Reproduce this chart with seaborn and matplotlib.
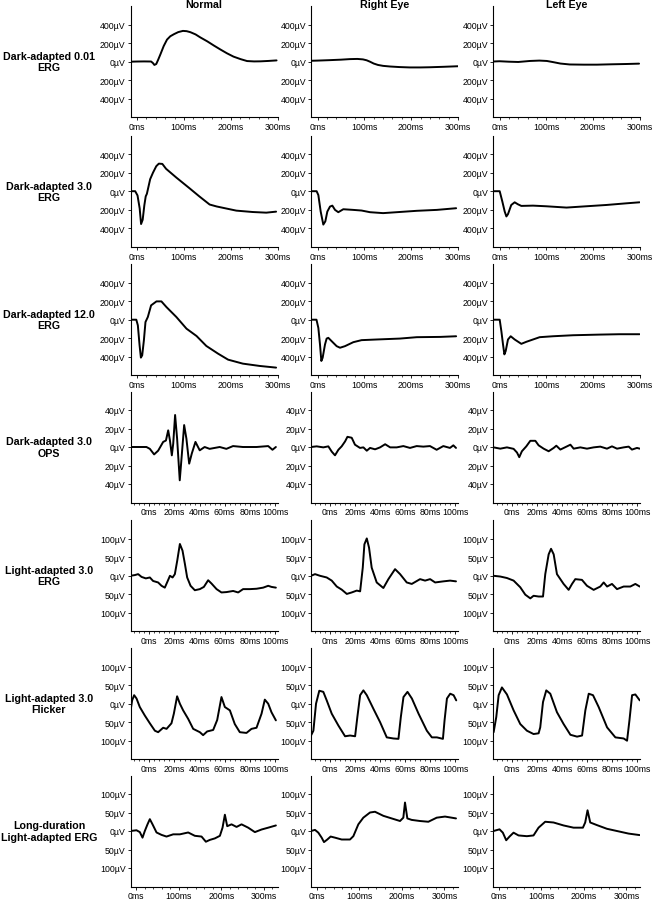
import numpy as np
import pandas as pd
import matplotlib
matplotlib.use("Agg")
import matplotlib.pyplot as plt
import seaborn as sns
from matplotlib.ticker import AutoMinorLocator

# Dark-adapted 0.01 ERG
da001_normal_t = [-14, 0, 15, 30, 34, 37, 41, 45, 50, 57, 64, 71, 79, 88, 98, 106, 114, 125, 135, 150, 164, 178, 192, 206, 221, 235, 250, 264, 280, 298]
da001_normal_v = [0, 2, 3, 2, -15, -35, -25, 20, 81, 170, 239, 275, 298, 320, 333, 330, 319, 295, 263, 220, 175, 132, 91, 55, 28, 7, 3, 4, 8, 14]
da001_right_t = [-14, 0, 27, 50, 69, 85, 97, 105, 112, 120, 129, 140, 155, 175, 197, 220, 240, 270, 300]
da001_right_v = [10, 12, 17, 22, 28, 30, 25, 15, 0, -20, -35, -45, -52, -58, -62, -62, -60, -55, -49]
da001_left_t = [-14, 0, 20, 40, 65, 85, 101, 115, 130, 150, 180, 208, 240, 270, 298]
da001_left_v = [2, 5, 0, -3, 8, 12, 8, -5, -20, -30, -32, -32, -28, -25, -21]

# Dark-adapted 3.0 ERG
da30_normal_t = [-14, -4, 1, 5.6, 8.6, 12, 15.6, 18.5, 21, 28, 34, 41, 46.5, 54, 62, 84, 112, 133, 155, 170, 183, 212, 247, 276, 297]
da30_normal_v = [0, 0, -46, -186, -355, -309, -151, -56, -28, 130, 200, 270, 298, 295, 242, 147, 32, -56, -144, -165, -179, -210, -225, -232, -221]
da30_right_t = [-14, -2, 1.7, 6.7, 12.3, 16.6, 20.9, 26.6, 31.6, 37.3, 44.3, 55, 76, 94, 112, 140, 169, 212, 255, 296]
da30_right_v = [0, 0, -42, -220, -361, -326, -220, -166, -156, -202, -227, -195, -202, -209, -227, -237, -227, -212, -202, -184]
da30_left_t = [-14, 0.3, 6, 11, 14.6, 18, 25, 32.3, 39.4, 46.5, 71.4, 100, 143, 185, 228, 271, 299]
da30_left_v = [0, 0, -113, -220, -273, -248, -149, -120, -142, -159, -156, -163, -177, -163, -149, -131, -120]

# Dark-adapted 12.0 ERG
da12_normal_t = [-14, -1.6, 1.7, 5.4, 8.2, 11, 14.6, 18, 23, 30, 41.5, 52, 62.7, 84, 105.6, 127, 148, 173, 194.5, 226, 262, 297]
da12_normal_v = [0, 0, -61, -277, -410, -385, -223, -25, 29, 155, 198, 198, 137, 29, -97, -176, -284, -367, -432, -475, -500, -518]
da12_right_t = [-14, -2.3, 1.7, 5.2, 8.1, 10.9, 15.9, 19.4, 23, 30.1, 40.8, 48, 58.6, 76.4, 94, 126, 176, 212, 262, 296]
da12_right_v = [0, 0, -89, -268, -446, -411, -268, -204, -196, -232, -286, -303, -286, -243, -221, -214, -204, -189, -186, -179]
da12_left_t = [-14, 0.3, 3.9, 7.4, 10.3, 13.1, 18, 23.8, 32.3, 46.5, 57.2, 71.4, 85.7, 114, 157, 214, 256, 299]
da12_left_v = [0, 0, -125, -268, -375, -339, -214, -179, -214, -261, -239, -214, -189, -179, -168, -161, -157, -157]

# Dark-adapted 3.0 OPS
ops_normal_t = [-15, -7.6, -2.3, 0.4, 3.8, 7, 11, 13.2, 15, 16.4, 17.9, 19, 20.5, 22.1, 24.2, 25.8, 27.7, 29.5, 31.7, 33.8, 36.7, 40.1, 44, 48, 56, 61.3, 66.6, 74.5, 85.3, 94.6, 98, 100.7]
ops_normal_v = [0, 0, 0, -2, -8, -4, 5.5, 7, 18, 7, -9, 3.6, 34.6, 9, -36, -9, 23.7, 9, -18, -7, 5.5, -3.6, 0, -2, 0, -2, 1, 0, 0, 1, -3, 0]
ops_right_t = [-15, -10.5, -5.2, -1.2, 1.5, 4.1, 6.8, 9.4, 12.1, 14, 17.4, 20, 24, 26.7, 29.4, 32, 36, 40, 44, 48, 53.2, 58.5, 63.8, 69.1, 74.4, 79.7, 85, 90.3, 95.6, 98.3, 100.4]
ops_right_v = [0, 0.7, -0.4, 0.7, -5, -9, -3, 0.7, 6, 11, 10, 2.5, -1, -0.4, -4, -1, -2.5, -0.4, 3, -0.4, -0.4, 1, -1, 1, 0.4, 1, -3, 1, -1, 1.8, -1]
ops_left_t = [-14.5, -9.2, -3.9, 1.4, 4.1, 5.9, 8, 11.5, 14.7, 18.7, 21.3, 25.3, 29.3, 33.3, 35.4, 38.6, 43.9, 46.6, 49.2, 54.5, 59.8, 65.1, 70.4, 75.7, 79.7, 83.7, 89, 93, 95.6, 99.6, 101.8]
ops_left_v = [-0.4, -1.8, -0.4, -2, -6, -11, -4.6, 0.7, 6.7, 6.7, 1.8, -1.8, -4.6, -1, 1.4, -2.8, 0.7, 2.5, -1.8, -0.4, -1.8, -0.4, 0.4, -1.8, 0.7, -1.8, -0.4, 0.4, -2.8, -1, -1.8]

# Light-adapted 3.0 ERG
la_normal_t = [-15, -11.5, -8.9, -6.2, -2.8, 0.4, 3, 7, 9.7, 12.3, 14.5, 16.4, 18.5, 20.3, 22.2, 24.3, 26.4, 28.3, 30.1, 32.8, 36.2, 40.2, 43.4, 46.8, 49.5, 53.5, 57.4, 61.4, 66.7, 70.7, 74.6, 80, 85.3, 90.6, 94.6, 97.2, 100.7]
la_normal_v = [0, 2, 4.5, -3, -7, -4.5, -14, -18, -27, -32, -15, 0, -4.5, 4.5, 41, 86, 68, 32, -4.5, -27, -39, -36, -30, -12, -21, -36, -45, -44, -41, -45, -36, -36, -35, -32, -27, -30, -32]
la_right_t = [-15, -11.8, -7.8, -2.5, 1.5, 5.5, 9.5, 13.5, 17.4, 21.4, 24.1, 26.2, 27.5, 29.4, 31.2, 33.3, 37.3, 42.6, 46.6, 51.9, 55.9, 61.2, 65.2, 71.8, 75.8, 79.8, 83.8, 90.4, 95.7, 100.4]
la_right_v = [0, 4.5, 0, -4.5, -13, -29, -37.5, -49, -45, -40, -42, 22, 85, 101, 76, 22, -18, -33, -9, 18, 4.5, -18, -22, -9, -13, -9, -18, -15, -13, -15]
la_left_t = [-14.5, -9.2, -3.9, 1.4, 6.7, 10.7, 14.7, 17.3, 21.3, 24.8, 26.6, 29.3, 31.2, 33.3, 35.9, 41.2, 45.2, 47.9, 50.5, 55.8, 59.8, 65.1, 70.4, 73.1, 75.8, 79.7, 83.7, 89, 94.3, 98.3, 101.8]
la_left_v = [0, -2, -6, -13, -31, -51, -61, -54, -56, -56, 4.5, 58, 73, 58, 4.5, -22, -38, -22, -9, -11, -27, -38, -29, -18, -29, -22, -36, -29, -29, -22, -29]

# Light-adapted 3.0 Flicker
fl_normal_t = [-15, -13.7, -12.1, -10.2, -7.6, -3.6, 0.4, 4.4, 7, 11, 13.7, 17.6, 19.5, 22.1, 24.3, 26.9, 30.9, 34.9, 40.2, 42.8, 46, 50.8, 54, 57.4, 60.1, 64.1, 68, 72, 77.3, 81.3, 85.3, 89.3, 91.9, 94.6, 97.2, 100.7]
fl_normal_v = [-20, 9, 23, 14, -9, -32, -53, -73, -77, -65, -68, -53, -27, 20, 0, -18, -41, -68, -77, -85, -75, -71, -44, 18, -9, -18, -55, -77, -79, -68, -65, -27, 11, 0, -23, -45]
fl_right_t = [-15, -13.1, -11, -8.4, -5.2, -2.5, 1.5, 6.8, 12.1, 16.1, 20.1, 21.9, 24.1, 26.7, 29.4, 34.7, 40, 45.3, 50.6, 54.6, 56.5, 58.6, 61.8, 65.3, 70.6, 77.2, 81.2, 85.2, 90, 91.3, 93.2, 95.8, 98.5, 100.6]
fl_right_v = [-86, -73, 0, 35, 32, 9, -27, -59, -88, -86, -88, -36, 23, 36, 23, -14, -50, -91, -94, -95, -36, 18, 32, 14, -27, -73, -91, -91, -95, -45, 14, 27, 23, 9]
fl_left_t = [-14.5, -12.4, -10.5, -7.9, -3.9, 1.4, 6.7, 12, 17.3, 21.3, 22.6, 24.8, 27.4, 30.6, 35.9, 41.2, 46.6, 51.9, 55.9, 58.5, 61.2, 64.6, 69.1, 75.8, 82.4, 89, 91.7, 93.6, 95.7, 98.3, 101.8]
fl_left_v = [-77, -36, 23, 44, 25, -18, -55, -73, -82, -80, -64, 4.5, 36, 27, -23, -55, -84, -89, -86, -18, 27, 23, -9, -64, -91, -94, -100, -45, 23, 25, 9]

# Long-duration Light-adapted ERG
ld_normal_t = [-13, 1.1, 8.9, 15.2, 20.6, 26.9, 32.4, 38.7, 48.1, 59.8, 71.5, 87.2, 102.8, 122.4, 138, 153.7, 163.9, 173.3, 185, 196.8, 203, 208.5, 214, 224.1, 235.9, 247.6, 263.2, 278.9, 294.5, 310.2, 328.2]
ld_normal_v = [0, 2, -3, -18, 0, 18, 32, 18, -4, -10.5, -15, -9, -9, -4, -13, -15, -29, -24, -20, -13, 9, 44, 13, 18, 11, 18, 9, -3, 4, 9, 15]
ld_right_t = [-13, -3.6, 4.2, 12, 17.5, 25.3, 33.1, 43.3, 59, 78.5, 86.4, 98.1, 109.8, 125.5, 137.2, 156.8, 176.3, 195.9, 203.7, 207.6, 213.1, 223.3, 242.8, 262.4, 282, 301.5, 317.1, 327.3]
ld_right_v = [0, 3, -4.5, -18, -30, -23, -15, -18, -23, -23, -14, 18, 36, 50, 52, 41, 34, 27, 36, 77, 34, 30, 27, 25, 36, 39, 36, 34]
ld_left_t = [-11.8, 2.3, 10.1, 18, 25.8, 35.2, 46.9, 66.5, 82.1, 93.9, 109.5, 129.1, 152.6, 176, 198, 203.4, 208.9, 215.2, 230.8, 254.3, 277.8, 305.2, 331]
ld_left_v = [0, 4.5, -4.5, -25, -15, -4.5, -12, -14, -12, 9, 25, 23, 15, 9, 9, 23, 56, 23, 16, 6, 0, -7, -11]

col_titles = ["Normal", "Right Eye", "Left Eye"]
row_titles = ["Dark-adapted 0.01\nERG", "Dark-adapted 3.0\nERG", "Dark-adapted 12.0\nERG",
              "Dark-adapted 3.0\nOPS", "Light-adapted 3.0\nERG", "Light-adapted 3.0\nFlicker",
              "Long-duration\nLight-adapted ERG"]

traces = [
    [(da001_normal_t, da001_normal_v), (da001_right_t, da001_right_v), (da001_left_t, da001_left_v)],
    [(da30_normal_t, da30_normal_v), (da30_right_t, da30_right_v), (da30_left_t, da30_left_v)],
    [(da12_normal_t, da12_normal_v), (da12_right_t, da12_right_v), (da12_left_t, da12_left_v)],
    [(ops_normal_t, ops_normal_v), (ops_right_t, ops_right_v), (ops_left_t, ops_left_v)],
    [(la_normal_t, la_normal_v), (la_right_t, la_right_v), (la_left_t, la_left_v)],
    [(fl_normal_t, fl_normal_v), (fl_right_t, fl_right_v), (fl_left_t, fl_left_v)],
    [(ld_normal_t, ld_normal_v), (ld_right_t, ld_right_v), (ld_left_t, ld_left_v)],
]

# axis settings per row: xlim, xticks, ylim, yticks
dark_x = ((-14, 300), [0, 100, 200, 300])
short_x = ((-15, 102), [0, 20, 40, 60, 80, 100])
long_x = ((-13, 332), [0, 100, 200, 300])
big_y = ((-600, 600), [400, 200, 0, -200, -400])
ops_y = ((-60, 60), [40, 20, 0, -20, -40])
la_y = ((-150, 150), [100, 50, 0, -50, -100])
row_axes = [(dark_x, big_y), (dark_x, big_y), (dark_x, big_y), (short_x, ops_y),
            (short_x, la_y), (short_x, la_y), (long_x, la_y)]

sns.set_style("white")
plt.rcParams['font.family'] = ['Liberation Sans', 'DejaVu Sans']
plt.rcParams['text.color'] = 'black'
plt.rcParams['xtick.color'] = 'black'
plt.rcParams['ytick.color'] = 'black'

W, H = 656, 903
fig = plt.figure(figsize=(W / 100, H / 100), dpi=100)

col_left = [130.5, 311, 493]
row_top = [7.2, 136.7, 265.2, 392.5, 521.3, 649.2, 776.5]
pw, ph = 147, 111

for r in range(7):
    (xl, xt), (yl, yt) = row_axes[r]
    for c in range(3):
        ax = fig.add_axes([col_left[c] / W, 1 - (row_top[r] + ph) / H, pw / W, ph / H])
        t, v = traces[r][c]
        df = pd.DataFrame({"t": t, "v": v})
        sns.lineplot(data=df, x="t", y="v", ax=ax, color="black", linewidth=1.4,
                     estimator=None, sort=False)
        ax.set_xlim(xl)
        ax.set_ylim(yl)
        ax.set_xticks(xt, [f"{x}ms" for x in xt])
        ax.set_yticks(yt, [f"{abs(y)}µV" for y in yt])
        ax.xaxis.set_minor_locator(AutoMinorLocator(5))
        ax.tick_params(axis="both", which="major", labelsize=6.3, length=2, width=0.6, pad=1.5,
                       direction="out", left=True, bottom=True)
        ax.tick_params(axis="x", which="minor", length=1.2, width=0.5, bottom=True)
        ax.set_xlabel("")
        ax.set_ylabel("")
        sns.despine(ax=ax)
        for s in ["left", "bottom"]:
            ax.spines[s].set_linewidth(0.8)
            ax.spines[s].set_color("black")
    yc = 1 - (row_top[r] + ph / 2) / H
    fig.text(49 / W, yc, row_titles[r], ha="center", va="center", fontsize=7.7,
             fontweight="bold", linespacing=1.15)

for c in range(3):
    fig.text((col_left[c] + pw / 2) / W, 1 - 5 / H, col_titles[c], ha="center", va="center",
             fontsize=7.7, fontweight="bold")

fig.savefig("out.png", dpi=100)
